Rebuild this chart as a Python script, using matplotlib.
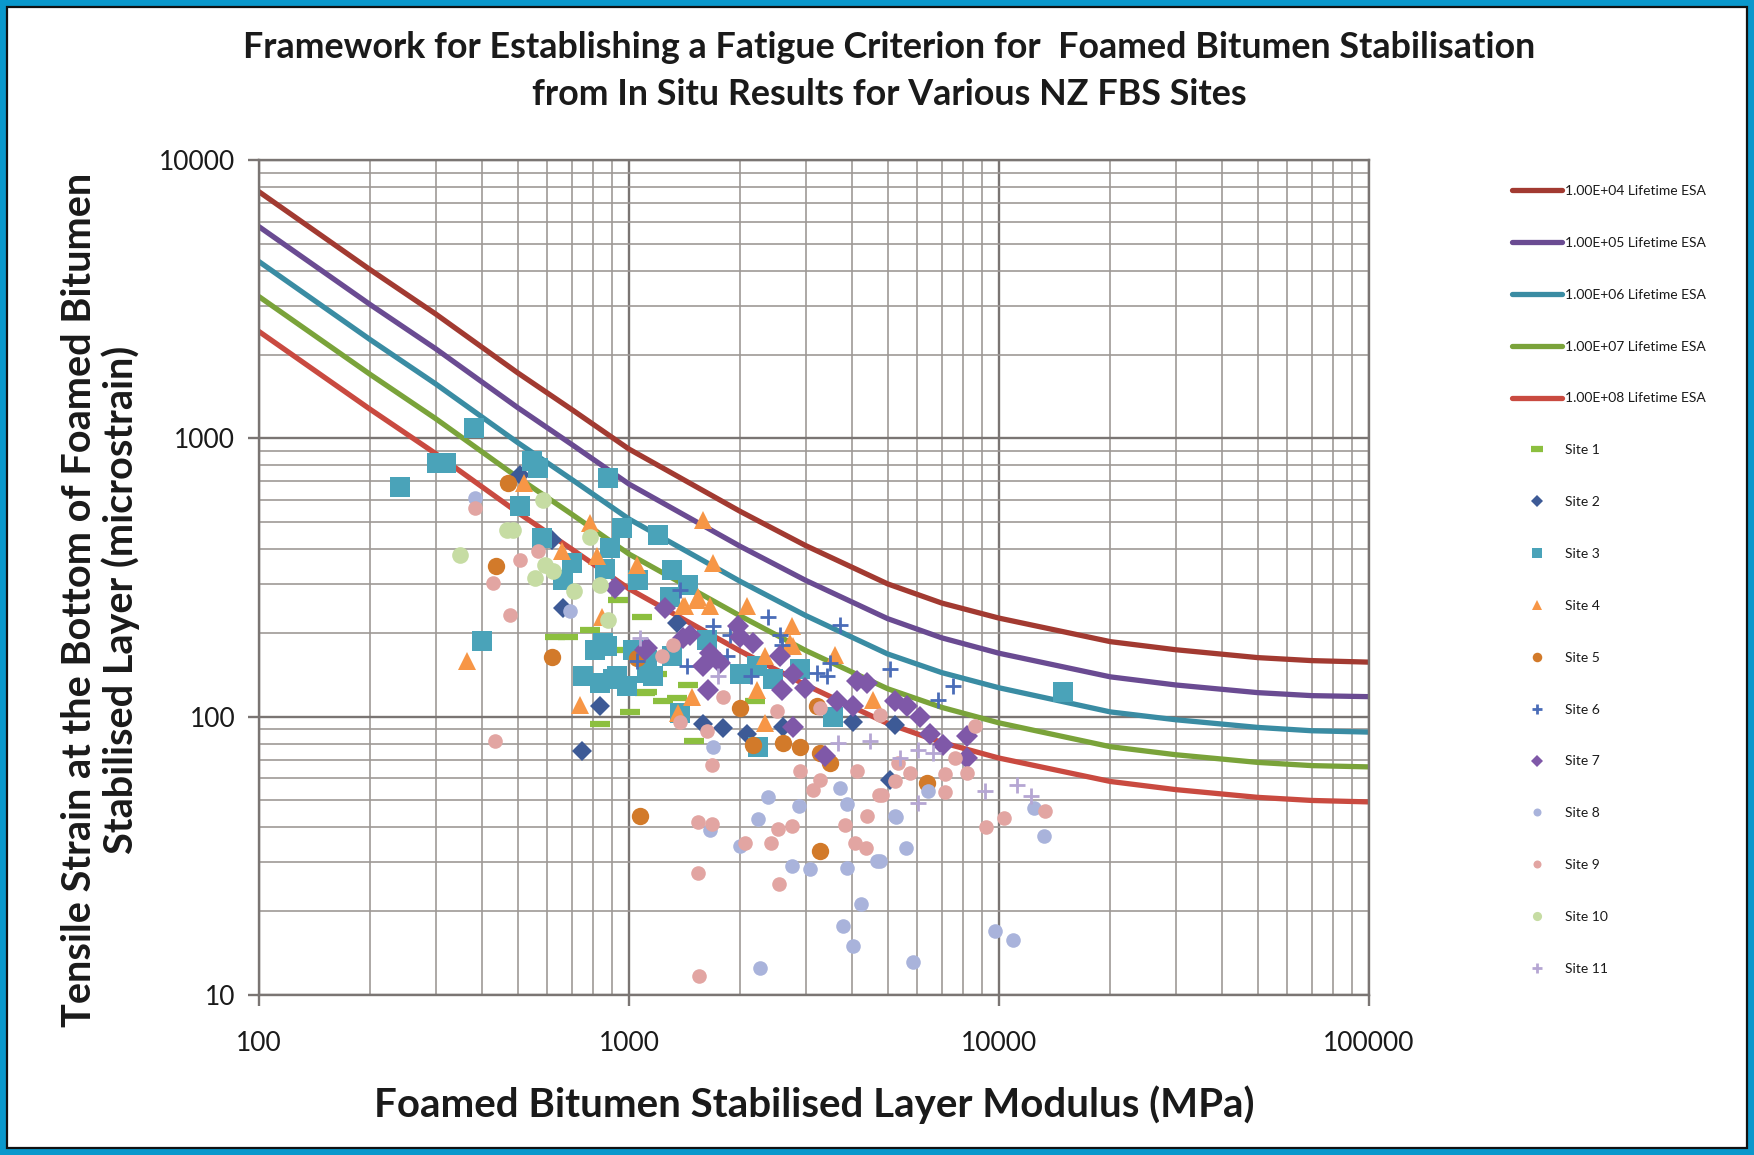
import matplotlib
matplotlib.use("Agg")
import matplotlib.pyplot as plt
from matplotlib.patches import Rectangle
from matplotlib.ticker import NullFormatter, LogLocator

plt.rcParams['font.family'] = ['Lato', 'DejaVu Sans']

# ---------------- data ----------------
title_text = ("Framework for Establishing a Fatigue Criterion for  Foamed Bitumen Stabilisation\n"
              "from In Situ Results for Various NZ FBS Sites")
xlabel_text = "Foamed Bitumen Stabilised Layer Modulus (MPa)"
ylabel_line1 = "Tensile Strain at the Bottom of Foamed Bitumen"
ylabel_line2 = "Stabilised Layer (microstrain)"

x_ticks = [100, 1000, 10000, 100000]
x_tick_labels = ["100", "1000", "10000", "100000"]
y_ticks = [10, 100, 1000, 10000]
y_tick_labels = ["10", "100", "1000", "10000"]

# criterion curves (modulus, strain)
curve_E = [100, 200, 300, 500, 700, 1000, 2000, 3000, 5000, 7000, 10000,
           20000, 30000, 50000, 70000, 100000]
esa_1e4 = [7690, 4030, 2800, 1720, 1270, 915, 546, 412, 300, 256, 226, 186, 174, 163, 159, 157]
esa_1e5 = [5760, 3020, 2100, 1290, 951, 685, 409, 309, 225, 192, 169, 139, 130, 122, 119, 118]
esa_1e6 = [4315, 2260, 1570, 966, 712, 513, 306, 231, 168, 144, 127, 104, 97.5, 91.5, 89, 88]
esa_1e7 = [3230, 1695, 1178, 724, 534, 384, 230, 173, 126, 108, 95, 78, 73, 68.5, 66.7, 66]
esa_1e8 = [2420, 1270, 882, 542, 400, 288, 172, 130, 94.5, 80.8, 71, 58.5, 54.7, 51.3, 50, 49.4]
curve_labels = ["1.00E+04 Lifetime ESA", "1.00E+05 Lifetime ESA", "1.00E+06 Lifetime ESA",
                "1.00E+07 Lifetime ESA", "1.00E+08 Lifetime ESA"]

site1_x = [935, 1081, 785, 631, 686, 927, 927, 1104, 1006, 836, 1188, 1117, 1238, 1346, 1494, 2190, 1445]
site1_y = [263, 229, 205, 193, 193, 174, 140, 122, 104, 94, 142, 123, 114, 117, 81.5, 114, 130]

site2_x = [506, 618, 665, 836, 745, 1346, 1585, 1798, 2080, 2612, 4040, 5240, 5070]
site2_y = [740, 432, 245, 109, 75, 217, 94, 91, 87, 92, 96, 93.5, 59]

site3_x = [381, 302, 321, 240, 546, 569, 879, 507, 581, 955, 889, 700, 861, 665, 1060, 400,
           809, 871, 753, 836, 927, 986, 1117, 1200, 1303, 1445, 1290, 851, 1028, 1117, 1303,
           1622, 2213, 2455, 2900, 3565, 1374, 908, 1164, 1995, 2234, 14900]
site3_y = [1088, 815, 815, 671, 826, 782, 719, 569, 438, 476, 404, 357, 338, 310, 310, 187,
           174, 179, 140, 132, 140, 129, 160, 451, 337, 298, 270, 184, 174, 144, 165,
           189, 152, 136, 148, 100, 103, 136, 140, 142, 78, 123]

site4_x = [520, 785, 658, 819, 1050, 843, 364, 738, 1585, 1690, 2080, 2754, 1538, 1655, 1416,
           3606, 2723, 2780, 2330, 2213, 1476, 1360, 2330, 4570, 1523, 1403]
site4_y = [690, 496, 393, 377, 352, 229, 158, 110, 509, 357, 249, 211, 270, 249, 249,
           167, 184, 179, 165, 125, 118, 103, 95, 115, 263, 249]

site5_x = [472, 438, 618, 1050, 1071, 1995, 2168, 2612, 2897, 3283, 3490, 3213, 3283, 6370]
site5_y = [690, 347, 164, 162, 43.8, 107, 79, 80.6, 78, 74, 68, 109, 33, 57.8]

site6_x = [1374, 2377, 1690, 2560, 2590, 3715, 1875, 1835, 2143, 1432, 1050, 3213, 3420, 3490,
           5070, 7530, 6860]
site6_y = [286, 229, 211, 197, 181, 214, 197, 165, 140, 152, 158, 144, 140, 156,
           148, 128.5, 115]

site7_x = [916, 1250, 1117, 1403, 1655, 1762, 1589, 1973, 1995, 2168, 2560, 1637, 2590, 2780,
           2990, 2780, 3390, 3640, 4036, 4385, 4120, 5240, 5630, 6110, 6510, 7060, 8180, 8180,
           1462, 1104]
site7_y = [290, 245, 176, 191, 169, 156, 152, 211, 194, 184, 165, 125, 125, 142,
           127, 92, 72, 114, 109, 132, 134, 114, 109, 100, 87, 79, 85, 71,
           197, 174]

site8_x = [384, 693, 1690, 2377, 2233, 2880, 3715, 3873, 1655, 1995, 2753, 3085, 3873, 4670,
           5240, 4240, 3795, 4036, 2258, 6440, 5270, 5610, 4770, 12400, 13200, 9750, 10900, 5850]
site8_y = [610, 239, 78, 51.5, 43, 47.7, 55.5, 48.7, 39.3, 34.2, 29, 28.3, 28.6, 30.3,
           43.9, 21.3, 17.7, 15, 12.5, 54, 43.6, 33.7, 30.2, 47, 37.2, 17, 15.7, 13.1]

site9_x = [384, 430, 507, 569, 477, 434, 1318, 1225, 1798, 1374, 1622, 1672, 2506, 3283, 4770,
           2898, 3283, 3148, 4120, 1538, 1672, 1538, 1548, 2055, 2413, 2535, 2755, 2540, 3837,
           4080, 4370, 4385, 4745, 8600, 7600, 7150, 8200, 7150, 5740, 5340, 5230, 4820, 9230,
           10300, 13300]
site9_y = [561, 302, 367, 393, 232, 81.5, 181, 165, 118, 96, 88.5, 67.3, 104.5, 107, 101.6,
           63.7, 59.4, 54.7, 63.7, 42, 41, 27.5, 11.7, 35.2, 35.2, 39.6, 40.4, 25.1, 40.9,
           35.2, 33.7, 43.9, 52.5, 92.3, 71, 62.4, 63, 53.7, 63, 68.2, 58.6, 52.5, 40.2,
           43.3, 45.7]

site10_x = [587, 467, 487, 349, 785, 593, 624, 557, 708, 836, 880]
site10_y = [601, 469, 469, 382, 443, 352, 333, 315, 282, 298, 223]

site11_x = [1071, 4480, 3680, 1743, 6050, 6650, 5400, 6050, 9160, 11200, 12200]
site11_y = [191, 81.5, 80.3, 140, 76, 74, 71, 49, 54, 57, 51.8]

site_labels = ["Site %d" % i for i in range(1, 12)]

# ---------------- styles ----------------
curve_colors = ['#A23A31', '#6A4B92', '#3A8CA3', '#7AA33A', '#C94A40']
site_styles = [
    dict(marker='_', color='#8CBF3F', ms=15, mew=4.5),
    dict(marker='D', color='#3D5A96', ms=10.5, mew=0),
    dict(marker='s', color='#4AA3B9', ms=14, mew=0),
    dict(marker='^', color='#F79646', ms=13.5, mew=0),
    dict(marker='o', color='#D27A2A', ms=12.5, mew=0),
    dict(marker='+', color='#4A6CB8', ms=12, mew=2),
    dict(marker='D', color='#7F58A8', ms=11, mew=0),
    dict(marker='o', color='#A9B3DB', ms=10.5, mew=0),
    dict(marker='o', color='#E2A5A2', ms=10.5, mew=0),
    dict(marker='o', color='#C6DCA3', ms=12, mew=0),
    dict(marker='+', color='#B5A6D3', ms=12, mew=2),
]

W, H = 1754, 1155
fig = plt.figure(figsize=(W / 100, H / 100), dpi=100)
fig.patch.set_facecolor('white')

ax = fig.add_axes([259 / W, 1 - 995 / H, (1369 - 259) / W, (995 - 160) / H])
ax.set_xscale('log')
ax.set_yscale('log')
ax.set_xlim(100, 100000)
ax.set_ylim(10, 10000)

grid_major = '#7A7573'
grid_minor = '#9E9996'
ax.xaxis.set_minor_locator(LogLocator(base=10, subs=range(2, 10)))
ax.yaxis.set_minor_locator(LogLocator(base=10, subs=range(2, 10)))
ax.grid(which='major', color=grid_major, lw=1.7, zorder=0)
ax.grid(which='minor', color=grid_minor, lw=1.2, zorder=0)
ax.set_axisbelow(True)
for s in ax.spines.values():
    s.set_color(grid_major)
    s.set_linewidth(1.7)

ax.set_xticks(x_ticks)
ax.set_xticklabels(x_tick_labels)
ax.set_yticks(y_ticks)
ax.set_yticklabels(y_tick_labels)
ax.xaxis.set_minor_formatter(NullFormatter())
ax.yaxis.set_minor_formatter(NullFormatter())
ax.tick_params(which='major', direction='out', length=8, width=1.7, color=grid_major,
               labelsize=19, labelcolor='#1a1a1a')
ax.tick_params(which='minor', length=0)
ax.tick_params(axis='x', which='major', pad=18)
ax.tick_params(axis='y', which='major', pad=9)

handles = []
for ys, col, lab in zip([esa_1e4, esa_1e5, esa_1e6, esa_1e7, esa_1e8], curve_colors, curve_labels):
    h, = ax.plot(curve_E, ys, color=col, lw=3.8, label=lab, zorder=2, solid_capstyle='round')
    handles.append(h)

site_x = [site1_x, site2_x, site3_x, site4_x, site5_x, site6_x, site7_x, site8_x, site9_x,
          site10_x, site11_x]
site_y = [site1_y, site2_y, site3_y, site4_y, site5_y, site6_y, site7_y, site8_y, site9_y,
          site10_y, site11_y]
for xs, ys, st, lab in zip(site_x, site_y, site_styles, site_labels):
    h, = ax.plot(xs, ys, linestyle='none', marker=st['marker'], color=st['color'],
                 markersize=st['ms'], markeredgewidth=st['mew'], label=lab, zorder=3,
                 clip_on=True)
    handles.append(h)

leg = fig.legend(handles=handles, loc='upper left',
                 bbox_to_anchor=(1512 / W, 1 - 185 / H), frameon=False,
                 fontsize=10, labelspacing=2.87, handlelength=3.6, handletextpad=0.25,
                 markerscale=0.55, borderpad=0, borderaxespad=0)
for t in leg.get_texts():
    t.set_color('#1a1a1a')

fig.text(889 / W, 1 - 71 / H, title_text, ha='center', va='center', fontsize=25.8,
         fontweight='bold', color='#1a1a1a', linespacing=1.52)
fig.text(814 / W, 1 - 1105 / H, xlabel_text, ha='center', va='center', fontsize=29,
         fontweight='bold', color='#1a1a1a')
fig.text(80 / W, 1 - 600 / H, ylabel_line1, ha='center', va='center', rotation=90,
         fontsize=28.5, fontweight='bold', color='#1a1a1a')
fig.text(121 / W, 1 - 600 / H, ylabel_line2, ha='center', va='center', rotation=90,
         fontsize=28.5, fontweight='bold', color='#1a1a1a')

# border: blue frame with thin black inner line
b = 7
fig.patches.append(Rectangle((0, 0), 1, 1, transform=fig.transFigure, fill=False,
                             edgecolor='#0A98CC', linewidth=2 * b * 72 / 100, zorder=10))
fig.patches.append(Rectangle((b / W, b / H), 1 - 2 * b / W, 1 - 2 * b / H,
                             transform=fig.transFigure, fill=False, edgecolor='#111111',
                             linewidth=1.6, zorder=11))

fig.savefig("out.png", dpi=100, facecolor='white')
